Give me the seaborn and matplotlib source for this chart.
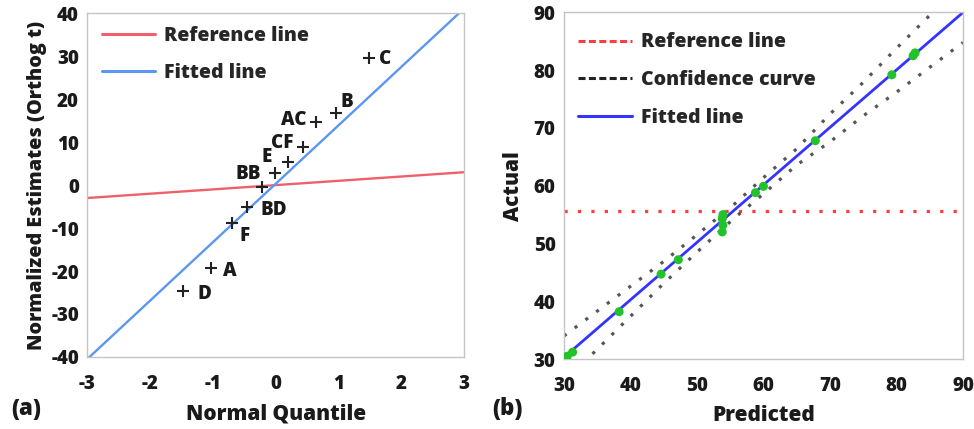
import numpy as np
import pandas as pd
import matplotlib
matplotlib.use('Agg')
import matplotlib.pyplot as plt
from matplotlib.lines import Line2D
import seaborn as sns

'''
0) data read off the picture
'''
# (a) normal plot of effects
effect_names = ['D', 'A', 'F', 'BD', '', 'BB', 'E', 'CF', 'AC', 'B', 'C']
normal_quantile = [-1.48, -1.03, -0.69, -0.46, -0.22, -0.01, 0.20, 0.43, 0.65, 0.96, 1.49]
norm_estimate = [-24.6, -19.4, -8.8, -5.1, -0.5, 2.8, 5.4, 8.8, 14.8, 16.7, 29.5]
label_q = [-1.13, -0.73, -0.49, -0.03, None, -0.43, -0.14, 0.10, 0.29, 1.13, 1.74]
label_v = [-25.3, -19.9, -11.8, -5.9, None, 2.6, 6.6, 9.7, 15.1, 19.4, 29.3]
ref_a_x = [-3, 3]
ref_a_y = [-3, 3]
fit_a_x = [-3, 3]
fit_a_y = [-40.5, 41.1]

# (b) actual by predicted
predicted = [30.5, 31.3, 38.3, 44.6, 47.2, 53.8, 53.9, 53.8, 53.9, 58.8, 60.0, 67.8, 79.3, 82.5, 82.8]
actual = [30.5, 31.2, 38.2, 44.7, 47.2, 52.0, 53.2, 54.3, 55.0, 58.8, 59.9, 67.8, 79.2, 82.5, 83.0]
ref_b = 55.7
fit_b_x = [30, 90]
fit_b_y = [30.3, 90]
conf_x = [30, 35, 40, 45, 50, 55.7, 60, 65, 70, 75, 80, 85, 90]
conf_upper = [34.0, 38.3, 42.6, 46.9, 51.5, 56.9, 61.4, 66.4, 72.4, 77.9, 83.8, 89.5, 95.2]
conf_lower = [26.0, 31.7, 37.4, 43.1, 48.5, 54.5, 58.6, 63.6, 67.6, 72.1, 76.2, 80.5, 84.8]

'''
1) style
'''
sns.set_style('white')
plt.rcParams['font.family'] = ['Open Sans', 'DejaVu Sans']
W = 'extra bold'
plt.rcParams['font.weight'] = W
plt.rcParams['axes.labelweight'] = W

fig = plt.figure(figsize=(9.74, 4.29), dpi=100)
ax1 = fig.add_axes([0.0896, 0.168, 0.3868, 0.801])
ax2 = fig.add_axes([0.579, 0.163, 0.4097, 0.808])

spine_col = '#c4c4c4'
txt_col = '#1a1a1a'
for ax in (ax1, ax2):
    for s in ax.spines.values():
        s.set_color(spine_col)
        s.set_linewidth(1.0)
    ax.tick_params(axis='both', direction='out', length=4, width=1, color=spine_col,
                   labelsize=13.5, labelcolor=txt_col)
    ax.tick_params(axis='x', pad=8)
    ax.tick_params(axis='y', pad=2)

'''
2) panel (a)
'''
red_a = '#f0606c'
blue_a = '#5b97f2'
sns.lineplot(x=ref_a_x, y=ref_a_y, color=red_a, lw=1.7, ax=ax1)
sns.lineplot(x=fit_a_x, y=fit_a_y, color=blue_a, lw=1.7, ax=ax1)
sns.scatterplot(x=normal_quantile, y=norm_estimate, marker='+', s=70, color='#222222',
                linewidth=1.5, ax=ax1, zorder=5)
for nm, lq, lv in zip(effect_names, label_q, label_v):
    if nm:
        ax1.text(lq, lv, nm, ha='center', va='center', fontsize=13.5, fontweight=W, color=txt_col)
ax1.set_xlim(-3, 3)
ax1.set_ylim(-40, 40)
ax1.set_xticks(range(-3, 4))
ax1.set_yticks(range(-40, 41, 10))
ax1.set_xticklabels([str(v) for v in range(-3, 4)], fontweight=W)
ax1.set_yticklabels([str(v) for v in range(-40, 41, 10)], fontweight=W)
ax1.set_xlabel('Normal Quantile', fontsize=15, fontweight=W, labelpad=7, color=txt_col)
ax1.set_ylabel('Normalized Estimates (Orthog t)', fontsize=14.2, fontweight=W, labelpad=3, color=txt_col)
h1 = [Line2D([], [], color=red_a, lw=2.2), Line2D([], [], color=blue_a, lw=2.2)]
ax1.legend(h1, ['Reference line', 'Fitted line'], loc='upper left', bbox_to_anchor=(-0.008, 1.014),
           frameon=False, handlelength=2.75, handletextpad=0.47, labelspacing=0.85,
           prop={'weight': W, 'size': 14})

'''
3) panel (b)
'''
red_b = '#ff3b3b'
blue_b = '#3434ff'
ax2.axhline(ref_b, color=red_b, lw=2.3, ls=(0, (1, 3.2)))
sns.lineplot(x=conf_x, y=conf_upper, color='#555555', lw=2.3, ax=ax2, linestyle=(0, (1, 3.2)))
sns.lineplot(x=conf_x, y=conf_lower, color='#555555', lw=2.3, ax=ax2, linestyle=(0, (1, 3.2)))
sns.lineplot(x=fit_b_x, y=fit_b_y, color=blue_b, lw=2.0, ax=ax2)
sns.scatterplot(x=predicted, y=actual, color='#22c32a', s=42, edgecolor='none', ax=ax2, zorder=5)
ax2.set_xlim(30, 90)
ax2.set_ylim(30, 90)
ax2.set_xticks(range(30, 91, 10))
ax2.set_yticks(range(30, 91, 10))
ax2.set_xticklabels([str(v) for v in range(30, 91, 10)], fontweight=W)
ax2.set_yticklabels([str(v) for v in range(30, 91, 10)], fontweight=W)
ax2.set_xlabel('Predicted', fontsize=15, fontweight=W, labelpad=7, color=txt_col)
ax2.set_ylabel('Actual', fontsize=15, fontweight=W, labelpad=7, color=txt_col)
h2 = [Line2D([], [], color=red_b, lw=2.2, ls=(0, (2.3, 1.1))),
      Line2D([], [], color='#222222', lw=2.2, ls=(0, (2.3, 1.1))),
      Line2D([], [], color=blue_b, lw=2.2)]
ax2.legend(h2, ['Reference line', 'Confidence curve', 'Fitted line'], loc='upper left',
           bbox_to_anchor=(-0.008, 0.993), frameon=False, handlelength=2.75, handletextpad=0.47,
           labelspacing=0.92, prop={'weight': W, 'size': 14})

fig.text(0.012, 0.047, '(a)', fontsize=16, fontweight=W, va='center', ha='left', color=txt_col)
fig.text(0.505, 0.047, '(b)', fontsize=16, fontweight=W, va='center', ha='left', color=txt_col)

plt.savefig('out.png', dpi=100)
